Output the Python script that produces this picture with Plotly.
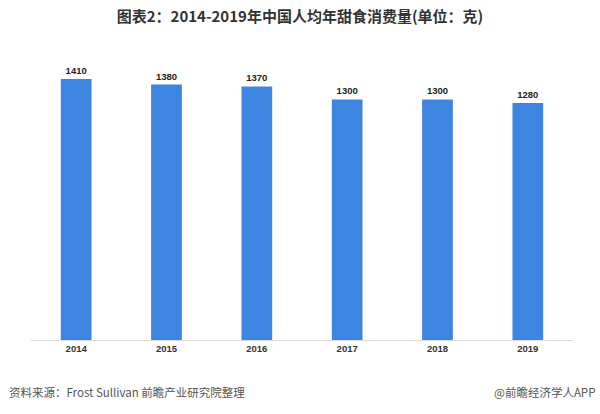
import plotly.graph_objects as go

years = ["2014", "2015", "2016", "2017", "2018", "2019"]
values = [1410, 1380, 1370, 1300, 1300, 1280]

fig = go.Figure()
fig.add_trace(go.Bar(
    x=years, y=values,
    marker=dict(color="#3D85E0", line=dict(width=0)),
    text=[str(v) for v in values],
    textposition="outside",
    textfont=dict(family="Liberation Sans, Arial", size=9.5, color="#222222"),
    texttemplate="<b>%{text}</b>",
    cliponaxis=False,
))

fig.update_layout(
    width=600, height=414,
    margin=dict(l=31, r=27, t=60, b=74),
    paper_bgcolor="white", plot_bgcolor="white",
    bargap=0.66,
    showlegend=False,
    title=dict(
        text="<b>图表2：2014-2019年中国人均年甜食消费量(单位：克)</b>",
        x=0.5, xanchor="center", y=0.959, yanchor="middle",
        font=dict(family="Noto Sans CJK SC", size=15, color="#333333"),
    ),
    xaxis=dict(
        showline=True, linecolor="#d9d9d9", linewidth=1,
        ticks="", showgrid=False,
        tickfont=dict(family="Liberation Sans, Arial", size=9.5, color="#333333"),
        tickprefix="<b>", ticksuffix="</b>",
    ),
    yaxis=dict(range=[0, 1513], visible=False, showgrid=False, zeroline=False),
    annotations=[
        dict(text="资料来源：Frost Sullivan 前瞻产业研究院整理", xref="paper", yref="paper",
             x=-0.044, y=-0.186, xanchor="left", yanchor="middle", showarrow=False,
             font=dict(family="Noto Sans CJK SC", size=11.5, color="#555555")),
        dict(text="@前瞻经济学人APP", xref="paper", yref="paper",
             x=1.044, y=-0.186, xanchor="right", yanchor="middle", showarrow=False,
             font=dict(family="Noto Sans CJK SC", size=11.5, color="#555555")),
    ],
)

# remove the default 8px body margin so the 600x414 figure fills the window exactly
fig.write_html(
    "out.html",
    config={"displayModeBar": False},
    post_script="document.body.style.margin='0';document.body.style.overflow='hidden';",
)
